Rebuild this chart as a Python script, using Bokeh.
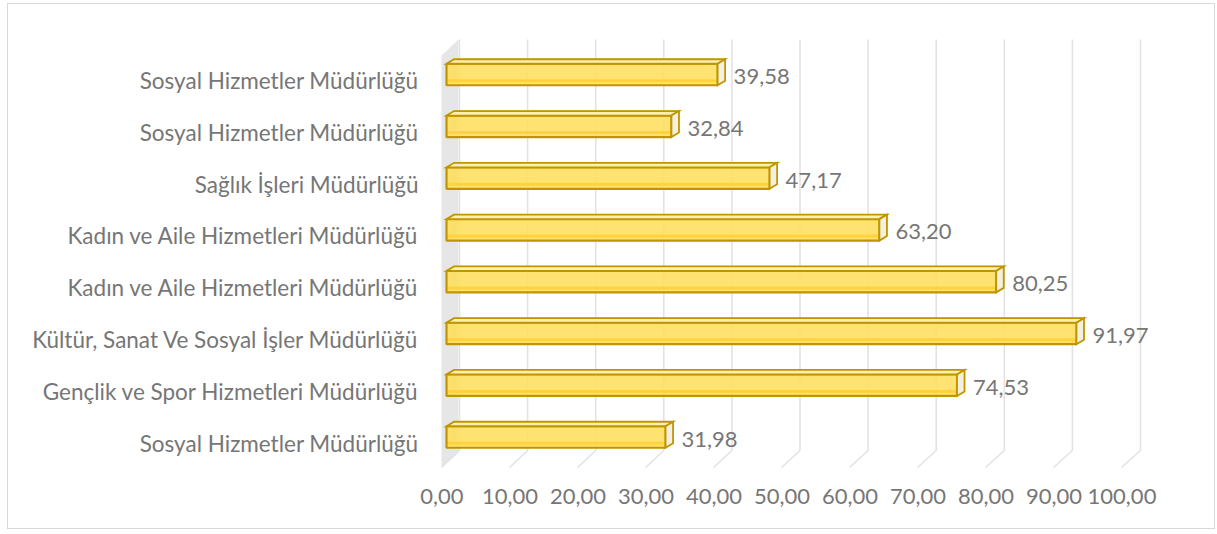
from bokeh.plotting import figure
from bokeh.models import Range1d, LinearAxis, FixedTicker, ColumnDataSource
from bokeh.embed import file_html
from bokeh.resources import INLINE
from bokeh.core.properties import value

# ---------------- data (bottom -> top, as in the Excel category order) -------------
categories = [
    "Sosyal Hizmetler Müdürlüğü",
    "Gençlik ve Spor Hizmetleri Müdürlüğü",
    "Kültür, Sanat Ve Sosyal İşler Müdürlüğü",
    "Kadın ve Aile Hizmetleri Müdürlüğü",
    "Kadın ve Aile Hizmetleri Müdürlüğü",
    "Sağlık İşleri Müdürlüğü",
    "Sosyal Hizmetler Müdürlüğü",
    "Sosyal Hizmetler Müdürlüğü",
]
values = [31.98, 74.53, 91.97, 80.25, 63.20, 47.17, 32.84, 39.58]
value_labels = ["31,98", "74,53", "91,97", "80,25", "63,20", "47,17", "32,84", "39,58"]
x_ticks = [0, 10, 20, 30, 40, 50, 60, 70, 80, 90, 100]
x_tick_labels = ["0,00", "10,00", "20,00", "30,00", "40,00", "50,00",
                 "60,00", "70,00", "80,00", "90,00", "100,00"]

# ---------------- layout ----------------
W, H = 1208, 526
ML, MR, MT, MB = 428, 16, 26, 60
FW = W - ML - MR
FH = H - MT - MB
XS = 6.85                       # px per value unit (bars)
YS = (FH - 33.5 - 44.0) / 7.0   # px per category step
x_start = -10.0 / XS
y_start = -33.5 / YS

TEXT = "#767676"
FONT = "Lato"
GOLD = "#C09600"

p = figure(width=W, height=H, output_backend="svg", toolbar_location=None,
           x_axis_type=None, y_axis_type=None,
           x_range=Range1d(x_start, x_start + FW / XS),
           y_range=Range1d(y_start, y_start + FH / YS),
           min_border_left=ML, min_border_right=MR,
           min_border_top=MT, min_border_bottom=MB)
p.outline_line_color = None
p.background_fill_color = "white"
p.border_fill_color = "white"
p.styles = {"border": "1px solid #d9d9d9", "margin-left": "7px", "margin-top": "3px"}

# extra ranges for the projected floor (tick labels) and category labels
fs = 6.8
p.extra_x_ranges = {"floor": Range1d(-5.5 / fs, -5.5 / fs + FW / fs)}
p.extra_y_ranges = {"cat": Range1d(y_start + 6.0 / YS, y_start + 6.0 / YS + FH / YS)}

y_bot = y_start                  # frame bottom
y_topf = y_start + FH / YS       # frame top

# ---------------- 3D side wall ----------------
wall_x = [-5.0 / XS, 12.0 / XS, 12.0 / XS, -5.0 / XS]
wall_y = [y_topf - 25.0 / YS, y_topf - 9.0 / YS, y_bot + 18.0 / YS, y_bot + 3.0 / YS]
p.patch(wall_x, wall_y, fill_color="#e6e6e6", line_color=None)

# ---------------- gridlines (back wall + floor) ----------------
gxs, gys = [], []
for t in x_ticks:
    xb = t * 6.81 / XS + 13.0 / XS
    xf = t * 6.80 / XS - 5.0 / XS
    gxs.append([xb, xb, xf])
    gys.append([y_topf - 9.0 / YS, y_bot + 20.0 / YS, y_bot + 3.0 / YS])
p.multi_line(gxs, gys, line_color="#e3e3e3", line_width=1.6)

# ---------------- bars ----------------
hh = 21.5 / YS / 2.0
DX = 7.5 / XS
DY = 4.5 / YS
ys = list(range(len(values)))
src = ColumnDataSource(dict(
    y=ys, v=values, lab=value_labels,
    b=[y - hh for y in ys], t=[y + hh for y in ys],
    zero=[0.0] * len(values),
    bb=[y - hh + DY for y in ys], bt=[y + hh + DY for y in ys],
    bl=[DX] * len(values), br=[v + DX for v in values],
    band_b=[y - hh + 3.0 / YS for y in ys], band_t=[y - hh + 6.0 / YS for y in ys],
))
top_xs = [[0, v, v + DX, DX] for v in values]
top_ys = [[y + hh, y + hh, y + hh + DY, y + hh + DY] for y in ys]
rt_xs = [[v, v + DX, v + DX, v] for v in values]
rt_ys = [[y - hh, y - hh + DY, y + hh + DY, y + hh] for y in ys]

# back face outline (seen through)
p.quad(left="bl", right="br", bottom="bb", top="bt", source=src,
       fill_color=None, line_color="#E3C04A", line_width=1)
# front face
p.quad(left="zero", right="v", bottom="b", top="t", source=src,
       fill_color="#FFDF5E", fill_alpha=0.88, line_color=None)
p.quad(left="zero", right="v", bottom="band_b", top="band_t", source=src,
       fill_color="#FFD02E", fill_alpha=0.8, line_color=None)
p.quad(left="zero", right="v", bottom="b", top="t", source=src,
       fill_color=None, line_color=GOLD, line_width=2.2)
# top face and end face
p.patches(top_xs, top_ys, fill_color="#FFEFB0", line_color=GOLD, line_width=1.8,
          line_join="miter")
p.patches(rt_xs, rt_ys, fill_color="#F4F0E1", line_color=GOLD, line_width=1.8,
          line_join="miter")

# value labels
p.text(x="v", y="y", text="lab", source=src, x_offset=16, y_offset=2,
       text_align="left", text_baseline="middle",
       text_font=value(FONT), text_font_size="22px", text_color=TEXT)

# ---------------- axes ----------------
xaxis = LinearAxis(x_range_name="floor", ticker=FixedTicker(ticks=x_ticks),
                   major_label_overrides={t: l for t, l in zip(x_ticks, x_tick_labels)})
xaxis.axis_line_color = None
xaxis.major_tick_line_color = None
xaxis.minor_tick_line_color = None
xaxis.major_tick_out = 0
xaxis.major_tick_in = 0
xaxis.major_label_standoff = 18
xaxis.major_label_text_font = FONT
xaxis.major_label_text_font_size = "22px"
xaxis.major_label_text_color = TEXT
p.add_layout(xaxis, "below")

yaxis = LinearAxis(y_range_name="cat", ticker=FixedTicker(ticks=ys),
                   major_label_overrides={i: c for i, c in zip(ys, categories)})
yaxis.axis_line_color = None
yaxis.major_tick_line_color = None
yaxis.minor_tick_line_color = None
yaxis.major_tick_out = 0
yaxis.major_tick_in = 0
yaxis.major_label_standoff = 18
yaxis.major_label_text_font = FONT
yaxis.major_label_text_font_size = "22.5px"
yaxis.major_label_text_color = TEXT
p.add_layout(yaxis, "left")

open("out.html", "w").write(file_html(p, INLINE))
